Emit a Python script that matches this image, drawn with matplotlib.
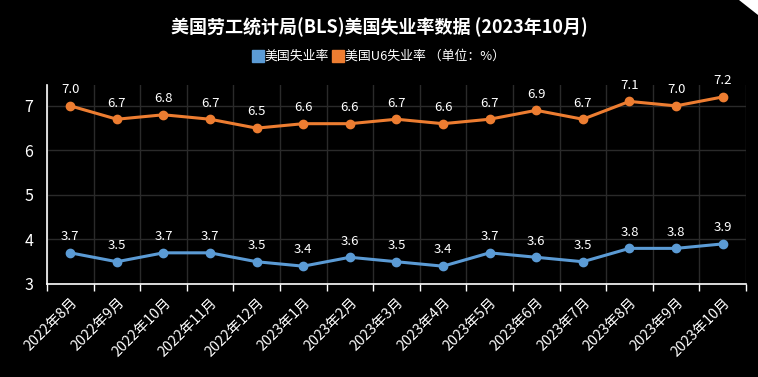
import matplotlib
matplotlib.use("Agg")
from matplotlib import pyplot as plt
from matplotlib.lines import Line2D
from matplotlib.patches import Polygon

plt.rcParams['font.family'] = ['Noto Sans CJK SC', 'DejaVu Sans']

months = ["2022年8月", "2022年9月", "2022年10月", "2022年11月", "2022年12月",
          "2023年1月", "2023年2月", "2023年3月", "2023年4月", "2023年5月",
          "2023年6月", "2023年7月", "2023年8月", "2023年9月", "2023年10月"]
unemployment = [3.7, 3.5, 3.7, 3.7, 3.5, 3.4, 3.6, 3.5, 3.4, 3.7, 3.6, 3.5, 3.8, 3.8, 3.9]
u6_rate = [7.0, 6.7, 6.8, 6.7, 6.5, 6.6, 6.6, 6.7, 6.6, 6.7, 6.9, 6.7, 7.1, 7.0, 7.2]
series_names = ["美国失业率", "美国U6失业率 （单位：%）"]

blue = '#5b9bd5'
orange = '#ed7d31'

fig = plt.figure(figsize=(7.58, 3.77), dpi=100, facecolor='black')
ax = fig.add_axes([0.062, 0.2467, 0.922, 0.528], facecolor='black')

x = list(range(len(months)))
for vals, color in ((unemployment, blue), (u6_rate, orange)):
    ax.plot(x, vals, color=color, linewidth=2.2, marker='o', markersize=6, zorder=3)
    for xi, v in zip(x, vals):
        ax.annotate(f"{v:.1f}", (xi, v), xytext=(0, 7), textcoords='offset points',
                    ha='center', va='bottom', color='white', fontsize=9.5)

ax.set_xlim(-0.5, len(months) - 0.5)
ax.set_ylim(3, 7.47)
ax.set_yticks([3, 4, 5, 6, 7])

# grid at category boundaries
bounds = [i - 0.5 for i in range(len(months) + 1)]
ax.set_xticks(bounds)
ax.set_xticklabels([])
ax.set_xticks(x, minor=True)
ax.set_xticklabels(months, minor=True, rotation=45, ha='right', rotation_mode='anchor',
                   color='white', fontsize=10.3)
ax.tick_params(axis='x', which='major', length=5, color='white', width=1)
ax.tick_params(axis='x', which='minor', length=0, pad=8)
ax.tick_params(axis='y', length=0, colors='white', labelsize=11.5, pad=10)

ax.grid(True, which='major', color='#2a2a2a', linewidth=1)
ax.set_axisbelow(True)
for s in ('top', 'right'):
    ax.spines[s].set_visible(False)
ax.spines['left'].set_color('white')
ax.spines['bottom'].set_color('white')
ax.spines['left'].set_linewidth(1.2)
ax.spines['bottom'].set_linewidth(1.2)

fig.text(0.5, 0.928, "美国劳工统计局(BLS)美国失业率数据 (2023年10月)", ha='center', va='center',
         color='white', fontsize=13, fontweight='bold')

handles = [Line2D([], [], linestyle='none', marker='s', markersize=8.5, color=c) for c in (blue, orange)]
fig.legend(handles, series_names, loc='center', bbox_to_anchor=(0.5, 0.85), ncol=2, frameon=False,
           fontsize=9.3, labelcolor='white', handletextpad=0.1, columnspacing=0.3, handlelength=0.8)

# corner fold decoration
fig.patches.append(Polygon([[0.975, 1.0], [1.0, 1.0], [1.0, 0.96]], closed=True,
                           transform=fig.transFigure, facecolor='white', edgecolor='none'))

fig.savefig("out.png", dpi=100, facecolor='black')
